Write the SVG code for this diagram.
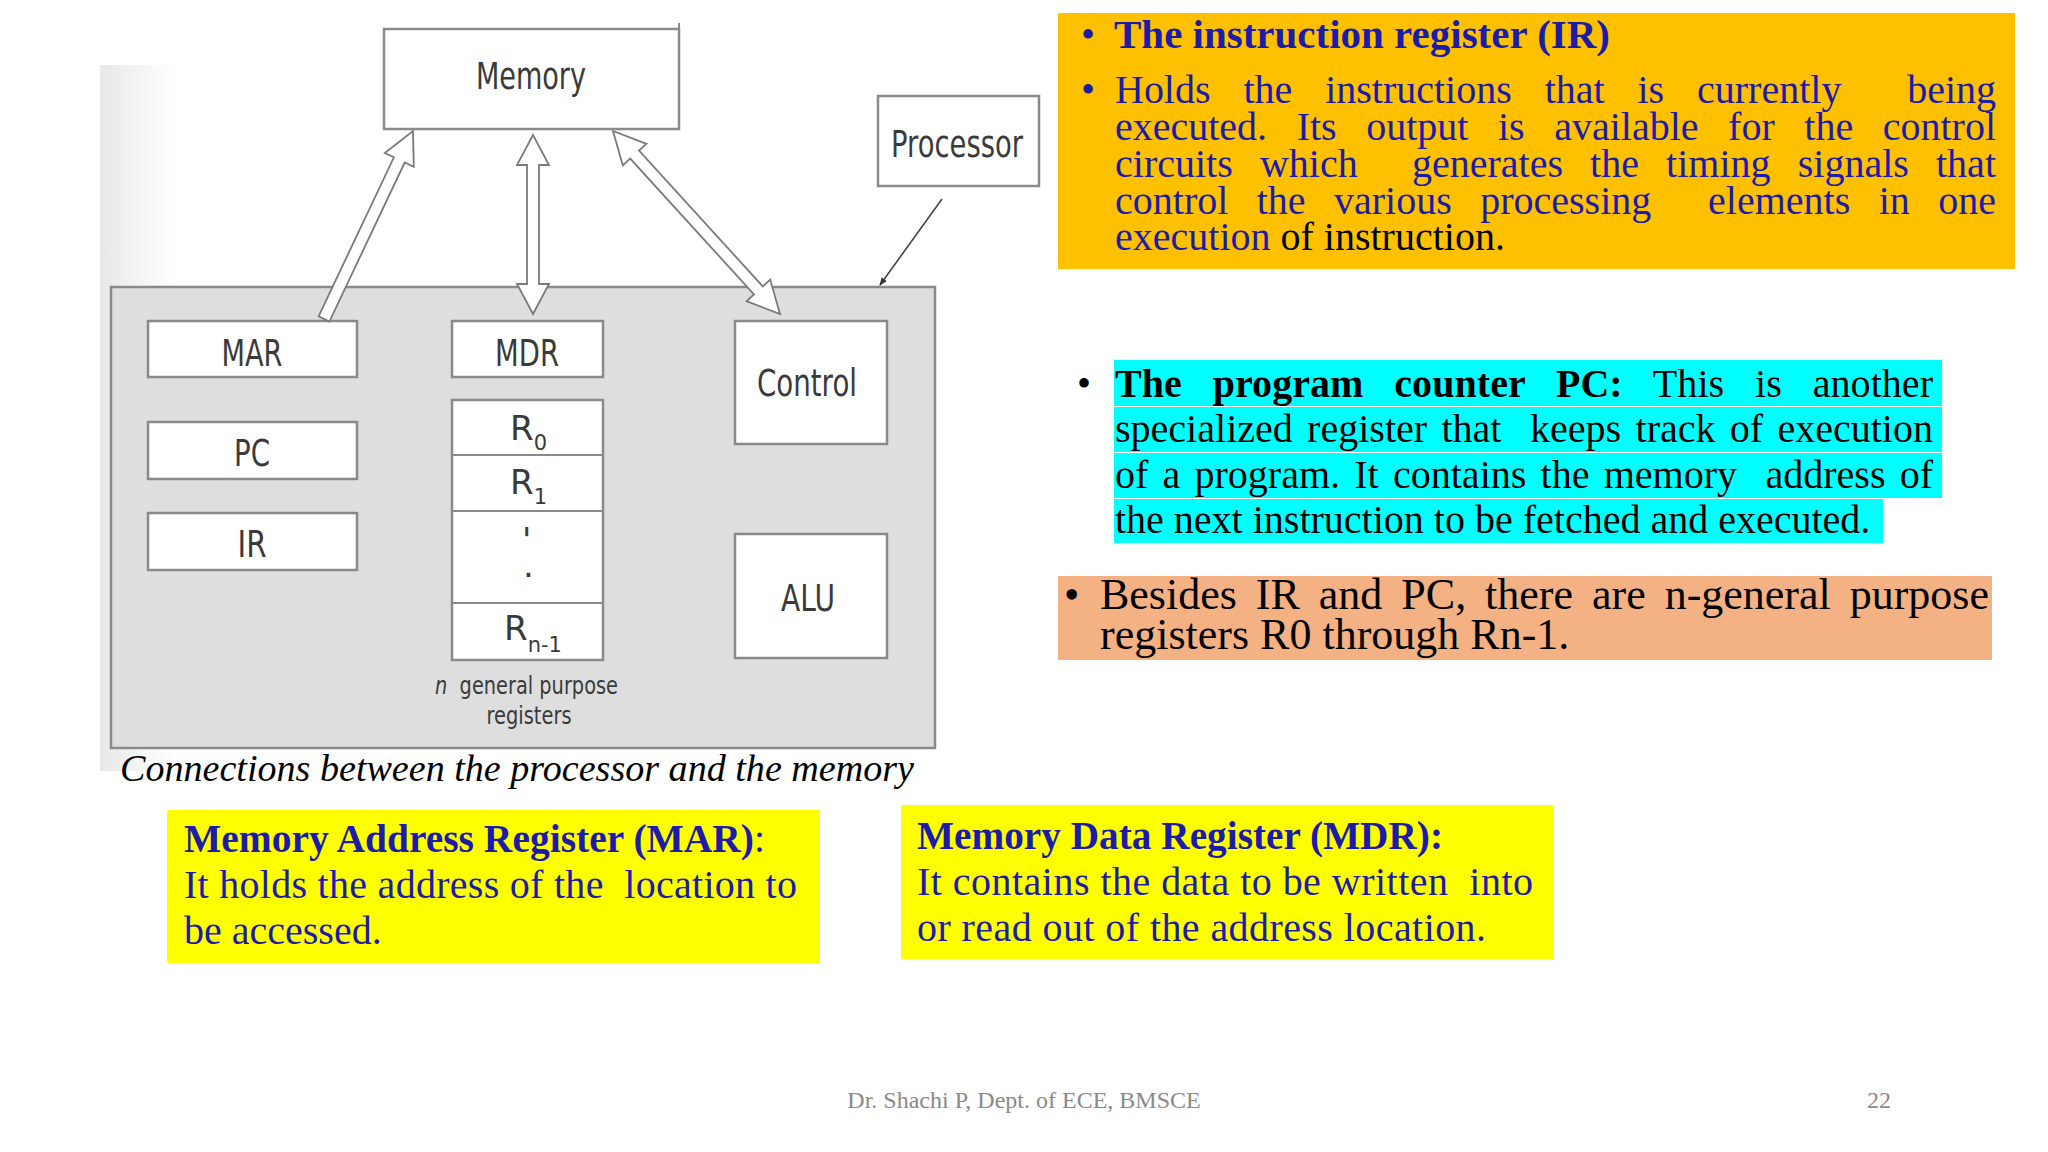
<svg xmlns="http://www.w3.org/2000/svg" width="2048" height="1152" viewBox="0 0 2048 1152">
<defs>
<linearGradient id="band" x1="0" y1="0" x2="1" y2="0">
<stop offset="0" stop-color="#e8e8e8"/><stop offset="1" stop-color="#ffffff"/>
</linearGradient>
<marker id="ah" viewBox="0 0 10 10" refX="9" refY="5" markerWidth="8" markerHeight="8" orient="auto" markerUnits="userSpaceOnUse">
<path d="M0,1 L10,5 L0,9 z" fill="#333"/>
</marker>
<style>
.box{fill:#fff;stroke:#8a8a8a;stroke-width:2.5}
.lbl{font-family:"DejaVu Sans",sans-serif;font-size:37px;fill:#3a3a3a;text-anchor:middle}
.reg{font-family:"DejaVu Sans",sans-serif;font-size:34px;fill:#3a3a3a}
.arr{fill:#fff;stroke:#7a7a7a;stroke-width:1.8;stroke-linejoin:miter}
.t{font-family:"Liberation Serif",serif;font-size:40px}
.big{font-size:44px}
.tb{font-size:39px}
.blue{fill:#1c1ca8}
.blk{fill:#000}
.b{font-weight:bold}
</style>
</defs>
<rect width="2048" height="1152" fill="#fff"/>
<rect x="100" y="65" width="75" height="706" fill="url(#band)"/>

<g id="processor-frame">
<rect x="111" y="287" width="824" height="461" fill="#dedede" stroke="#8a8a8a" stroke-width="2.5"/>
</g>

<g id="memory">
<rect class="box" x="384" y="29" width="295" height="100"/>
<line x1="679" y1="23" x2="679" y2="29" stroke="#8a8a8a" stroke-width="2"/>
<text class="lbl" x="531" y="89" textLength="110" lengthAdjust="spacingAndGlyphs">Memory</text>
</g>
<g id="processor">
<rect class="box" x="878" y="96" width="161" height="90"/>
<text class="lbl" x="957" y="157" textLength="132" lengthAdjust="spacingAndGlyphs">Processor</text>
</g>
<g id="mar">
<rect class="box" x="148" y="321" width="209" height="56"/>
<text class="lbl" x="252" y="366" textLength="61" lengthAdjust="spacingAndGlyphs">MAR</text>
</g>
<g id="pc">
<rect class="box" x="148" y="422" width="209" height="57"/>
<text class="lbl" x="252" y="466" textLength="36" lengthAdjust="spacingAndGlyphs">PC</text>
</g>
<g id="ir">
<rect class="box" x="148" y="513" width="209" height="57"/>
<text class="lbl" x="252" y="557" textLength="29" lengthAdjust="spacingAndGlyphs">IR</text>
</g>
<g id="mdr">
<rect class="box" x="452" y="321" width="151" height="56"/>
<text class="lbl" x="527" y="366" textLength="64" lengthAdjust="spacingAndGlyphs">MDR</text>
</g>
<g id="registers">
<rect class="box" x="452" y="400" width="151" height="260"/>
<line x1="452" y1="455" x2="603" y2="455" stroke="#8a8a8a" stroke-width="2"/>
<line x1="452" y1="511" x2="603" y2="511" stroke="#8a8a8a" stroke-width="2"/>
<line x1="452" y1="603" x2="603" y2="603" stroke="#8a8a8a" stroke-width="2"/>
<text class="reg" x="510" y="440">R<tspan dy="10" font-size="21">0</tspan></text>
<text class="reg" x="510" y="494">R<tspan dy="10" font-size="21">1</tspan></text>
<text class="reg" x="522" y="552">'<tspan x="523" dy="25">.</tspan></text>
<text class="reg" x="504" y="640">R<tspan dy="12" font-size="21">n-1</tspan></text>
<text x="435" y="694" font-family="DejaVu Sans,sans-serif" font-size="25" fill="#3a3a3a" textLength="183" lengthAdjust="spacingAndGlyphs" xml:space="preserve"><tspan font-style="italic">n</tspan>  general purpose</text>
<text x="529" y="724" font-family="DejaVu Sans,sans-serif" font-size="25" fill="#3a3a3a" text-anchor="middle" textLength="85" lengthAdjust="spacingAndGlyphs">registers</text>
</g>
<g id="control">
<rect class="box" x="735" y="321" width="152" height="123"/>
<text class="lbl" x="807" y="396" textLength="100" lengthAdjust="spacingAndGlyphs">Control</text>
</g>
<g id="alu">
<rect class="box" x="735" y="534" width="152" height="124"/>
<text class="lbl" x="808" y="611" textLength="54" lengthAdjust="spacingAndGlyphs">ALU</text>
</g>

<g id="connectors">
<polygon class="arr" points="318.6,316.4 393.9,157.3 384.8,153.1 413,131 413.8,166.8 404.7,162.5 329.4,321.6"/>
<polygon class="arr" points="533,135 549,165 539,165 539,284 549,284 533,314 517,284 527,284 527,165 517,165"/>
<polygon class="arr" points="613,131 622.8,165.4 630.2,158.6 754,294.4 746.6,301.2 780,314 770.2,279.6 762.8,286.4 639,150.6 646.4,143.8"/>
<line x1="942" y1="199" x2="880" y2="285" stroke="#444" stroke-width="1.6" marker-end="url(#ah)"/>
</g>

<text x="120" y="781" font-family="Liberation Serif,serif" font-style="italic" font-size="38" fill="#000" textLength="794" lengthAdjust="spacingAndGlyphs">Connections between the processor and the memory</text>

<g id="ir-note">
<rect x="1058" y="13" width="957" height="256" fill="#ffc000"/>
<text class="t blue" x="1081" y="48">•</text>
<text class="t blue b" x="1114" y="48" textLength="496" lengthAdjust="spacingAndGlyphs">The instruction register (IR)</text>
<text class="t blue" x="1081" y="103">•</text>
<text class="t blue" x="1115" y="103" xml:space="preserve" word-spacing="22.9" textLength="881" lengthAdjust="spacing">Holds the instructions that is currently  being</text>
<text class="t blue" x="1115" y="140" word-spacing="19.6" textLength="881" lengthAdjust="spacing">executed. Its output is available for the control</text>
<text class="t blue" x="1115" y="177" xml:space="preserve" word-spacing="17.1" textLength="881" lengthAdjust="spacing">circuits which  generates the timing signals that</text>
<text class="t blue" x="1115" y="213.5" xml:space="preserve" word-spacing="18.4" textLength="881" lengthAdjust="spacing">control the various processing  elements in one</text>
<text class="t blue" x="1115" y="250">execution<tspan class="blk"> of instruction.</tspan></text>
</g>

<g id="pc-note">
<rect x="1114" y="360" width="828" height="46" fill="#00ffff"/>
<rect x="1114" y="407" width="828" height="45" fill="#00ffff"/>
<rect x="1114" y="453" width="828" height="45" fill="#00ffff"/>
<rect x="1114" y="499" width="769" height="44" fill="#00ffff"/>
<text class="t blk" x="1077" y="397">•</text>
<text class="t blk" x="1115" y="397" word-spacing="20.8" textLength="818" lengthAdjust="spacing"><tspan class="b">The program counter PC:</tspan> This is another</text>
<text class="t blk" x="1115" y="442" xml:space="preserve" word-spacing="4.3" textLength="818" lengthAdjust="spacing">specialized register that  keeps track of execution</text>
<text class="t blk" x="1115" y="488" xml:space="preserve" word-spacing="4.2" textLength="818" lengthAdjust="spacing">of a program. It contains the memory  address of</text>
<text class="t blk" x="1115" y="533">the next instruction to be fetched and executed.</text>
</g>

<g id="gpr-note">
<rect x="1058" y="576" width="934" height="84" fill="#f4b183"/>
<text class="t big blk" x="1064" y="609">•</text>
<text class="t big blk" x="1100" y="609" word-spacing="8" textLength="889" lengthAdjust="spacing">Besides IR and PC, there are n-general purpose</text>
<text class="t big blk" x="1100" y="649">registers R0 through Rn-1.</text>
</g>

<g id="mar-note">
<rect x="167" y="810" width="653" height="153" fill="#ffff00"/>
<text class="t tb blue b" x="184" y="852" textLength="581" lengthAdjust="spacingAndGlyphs">Memory Address Register (MAR)<tspan font-weight="normal">:</tspan></text>
<text class="t blue" x="184" y="898" xml:space="preserve" textLength="613" lengthAdjust="spacing">It holds the address of the  location to</text>
<text class="t blue" x="184" y="944">be accessed.</text>
</g>

<g id="mdr-note">
<rect x="901" y="805" width="652" height="154" fill="#ffff00"/>
<text class="t tb blue b" x="917" y="849" textLength="526" lengthAdjust="spacingAndGlyphs">Memory Data Register (MDR):</text>
<text class="t blue" x="917" y="895" xml:space="preserve" textLength="616" lengthAdjust="spacing">It contains the data to be written  into</text>
<text class="t blue" x="917" y="941" textLength="569" lengthAdjust="spacing">or read out of the address location.</text>
</g>

<text x="1024" y="1108" font-family="Liberation Serif,serif" font-size="24" fill="#8a8a8a" text-anchor="middle">Dr. Shachi P, Dept. of ECE, BMSCE</text>
<text x="1891" y="1108" font-family="Liberation Serif,serif" font-size="24" fill="#8a8a8a" text-anchor="end">22</text>
</svg>
